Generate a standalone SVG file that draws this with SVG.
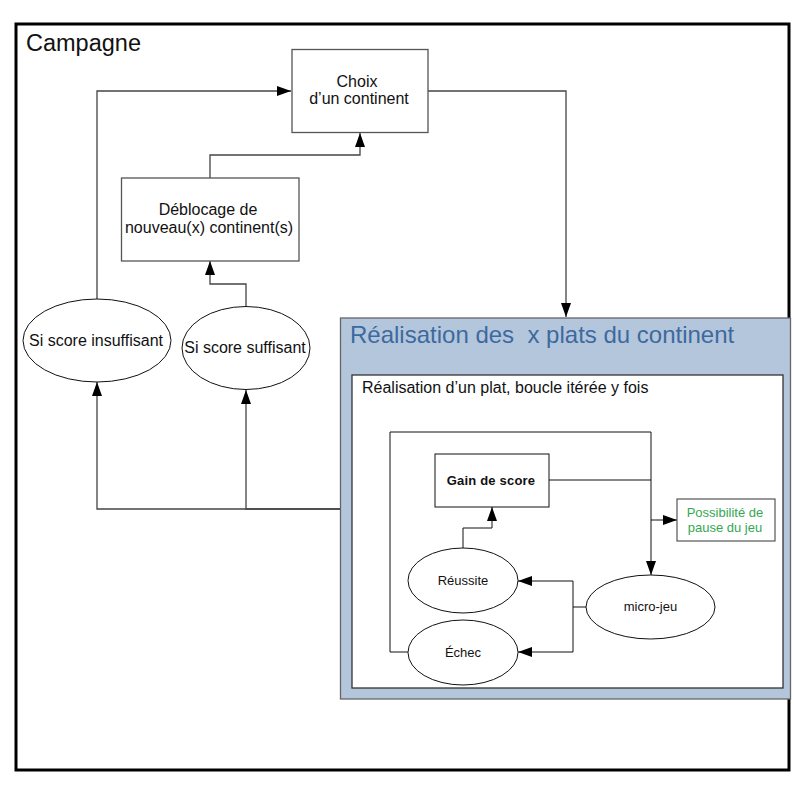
<svg xmlns="http://www.w3.org/2000/svg" width="794" height="794" viewBox="0 0 794 794">
<style>
text{font-family:"Liberation Sans",Arial,sans-serif;fill:#111}
.box{fill:#fff;stroke:#555;stroke-width:1.3}
.ell{fill:#fff;stroke:#111;stroke-width:1}
.c{fill:none;stroke:#444;stroke-width:1.3}
.ci{fill:none;stroke:#111;stroke-width:1}
.t15{font-size:16px;text-anchor:middle}
.t12{font-size:13px;text-anchor:middle}
</style>
<defs>
<marker id="arr" viewBox="0 0 14 10" refX="14" refY="5" markerWidth="14" markerHeight="10" markerUnits="userSpaceOnUse" orient="auto">
<path d="M0,0 L14,5 L0,10 z" fill="#000"/>
</marker>
</defs>
<rect x="0" y="0" width="794" height="794" fill="#fff"/>
<g id="campagne">
<rect x="16" y="24" width="773" height="746" fill="#fff" stroke="#000" stroke-width="3"/>
<text x="26" y="51" style="font-size:23.5px">Campagne</text>
</g>
<g id="realisation-continent">
<rect x="340.5" y="318" width="450" height="381" fill="#b4c6dc" stroke="#666" stroke-width="1.3"/>
<text x="350" y="343" style="font-size:24px;fill:#3d6a9e;white-space:pre" xml:space="preserve">Réalisation des  x plats du continent</text>
</g>
<g id="realisation-plat">
<rect x="352" y="375" width="431" height="313" fill="#fff" stroke="#333" stroke-width="1.3"/>
<text x="362" y="393" style="font-size:16px">Réalisation d’un plat, boucle itérée y fois</text>
</g>
<g id="connectors">
<polyline class="c" points="428,91 566,91 566,317" marker-end="url(#arr)"/>
<polyline class="c" points="97,299 97,91 291,91" marker-end="url(#arr)"/>
<polyline class="c" points="210,178 210,155 360,155 360,133" marker-end="url(#arr)"/>
<polyline class="c" points="246,307 246,284 210,284 210,261" marker-end="url(#arr)"/>
<polyline class="c" points="340,509 97,509 97,382" marker-end="url(#arr)"/>
<polyline class="c" points="340,509 246,509 246,390" marker-end="url(#arr)"/>
<polyline class="ci" points="408,652 390,652 390,432 651,432 651,575" marker-end="url(#arr)"/>
<polyline class="ci" points="549,480 651,480"/>
<polyline class="ci" points="651,520 677,520" marker-end="url(#arr)"/>
<polyline class="ci" points="463,548 463,528 492,528 492,507" marker-end="url(#arr)"/>
<polyline class="ci" points="586,607 573,607 573,581 518,581" marker-end="url(#arr)"/>
<polyline class="ci" points="573,607 573,652 518,652" marker-end="url(#arr)"/>
</g>
<g id="choix">
<rect class="box" x="292" y="49.5" width="136" height="83"/>
<text class="t15" x="357" y="87">Choix</text>
<text class="t15" x="359" y="104">d’un continent</text>
</g>
<g id="deblocage">
<rect class="box" x="121.5" y="178" width="177.5" height="83"/>
<text class="t15" x="208" y="215">Déblocage de</text>
<text class="t15" x="209" y="233">nouveau(x) continent(s)</text>
</g>
<g id="insuffisant">
<ellipse class="ell" cx="97" cy="340.5" rx="74" ry="41.5"/>
<text class="t15" x="96" y="346">Si score insuffisant</text>
</g>
<g id="suffisant">
<ellipse class="ell" cx="246" cy="348" rx="64" ry="41.5"/>
<text class="t15" x="245" y="353">Si score suffisant</text>
</g>
<g id="gain">
<rect x="435" y="454" width="114" height="53" fill="#fff" stroke="#111" stroke-width="1"/>
<text x="491" y="485" style="font-size:13px;font-weight:bold;text-anchor:middle;letter-spacing:0.2px">Gain de score</text>
</g>
<g id="pause">
<rect x="677" y="499" width="98" height="42" fill="#fff" stroke="#555" stroke-width="1.2"/>
<text x="725" y="517" style="font-size:13px;text-anchor:middle;fill:#33a853">Possibilité de</text>
<text x="725" y="532" style="font-size:13px;text-anchor:middle;fill:#33a853">pause du jeu</text>
</g>
<g id="reussite">
<ellipse class="ell" cx="463" cy="580.5" rx="55" ry="32.5"/>
<text class="t12" x="463" y="585">Réussite</text>
</g>
<g id="echec">
<ellipse class="ell" cx="463" cy="652.5" rx="55" ry="32.5"/>
<text class="t12" x="463" y="657">Échec</text>
</g>
<g id="microjeu">
<ellipse class="ell" cx="650.5" cy="607" rx="64.5" ry="32"/>
<text class="t12" x="650.5" y="611">micro-jeu</text>
</g>
</svg>
